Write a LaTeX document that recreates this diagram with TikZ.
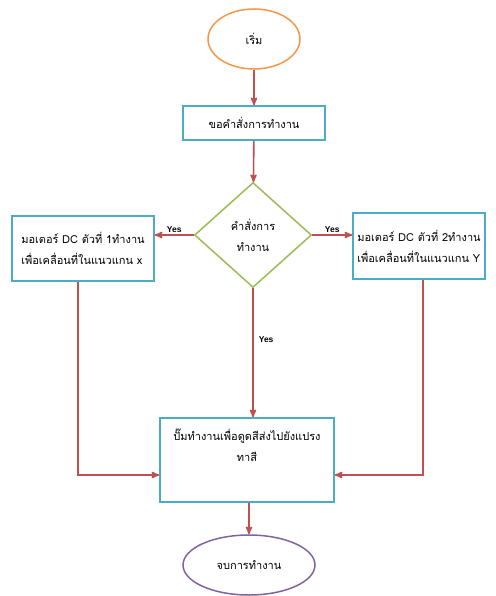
\documentclass[tikz,border=0pt]{standalone}
\usepackage{fontspec}
\usepackage{xcolor}
\usepackage{tikz}
\newfontfamily\thaifont[Script=Thai]{Loma}
\newfontfamily\yesfont{Liberation Sans}
\definecolor{startc}{RGB}{247,150,70}
\definecolor{boxc}{RGB}{75,172,198}
\definecolor{diac}{RGB}{155,187,89}
\definecolor{arrc}{RGB}{192,80,77}
\definecolor{endc}{RGB}{128,100,162}
\usetikzlibrary{
    arrows,
    shapes.geometric
}

\begin{document}
\begin{tikzpicture}[x=1pt,y=-1pt,>=stealth',semithick]
    \tikzstyle{every node}=[font=\thaifont\fontsize{11}{21}\selectfont]
    \tikzstyle{startstop}=[ellipse, draw, line width=1.5pt, inner sep=0pt]
    \tikzstyle{process}=[rectangle, draw=boxc, line width=1.5pt, inner sep=4pt]
    \tikzstyle{decision}=[diamond, draw=diac, line width=1.5pt, inner sep=0pt, align=center]
    \tikzstyle{flow}=[->, draw=arrc, line width=1.6pt]
    \tikzstyle{yes}=[font=\yesfont\bfseries\fontsize{8.5}{10}\selectfont, inner sep=2pt]
    \useasboundingbox (0,0) rectangle (495,596);
    \node[startstop, draw=startc, minimum width=92, minimum height=60] (start) at (254,39) {เริ่ม};
    \node[process, minimum width=142, minimum height=34] (ask) at (254,123) {ขอคำสั่งการทำงาน};
    \node[decision, minimum width=117, minimum height=105] (cmd) at (253,235) {คำสั่งการ\\ทำงาน};
    \node[process, minimum width=142, minimum height=65, align=left] (motor1) at (83,248.5) {มอเตอร์ DC ตัวที่ 1ทำงาน\\เพื่อเคลื่อนที่ในแนวแกน x};
    \node[process, minimum width=132, minimum height=66, align=left] (motor2) at (419,246) {มอเตอร์ DC ตัวที่ 2ทำงาน\\เพื่อเคลื่อนที่ในแนวแกน Y};
    \node[process, minimum width=174, minimum height=84, align=center, text depth=30pt] (pump) at (247,460) {ปั๊มทำงานเพื่อดูดสีส่งไปยังแปรง\\ทาสี};
    \node[startstop, draw=endc, minimum width=132, minimum height=60] (stop) at (249,565) {จบการทำงาน};
    \draw[flow] (start) -- (ask);
    \draw[flow] (ask) -- (cmd);
    \draw[flow] (cmd.west) -- node[yes, above]{Yes} (motor1.east |- cmd.west);
    \draw[flow] (cmd.east) -- node[yes, above]{Yes} (motor2.west |- cmd.east);
    \draw[flow] (cmd.south) -- node[yes, pos=0.4, right=3pt]{Yes} (pump.north -| cmd.south);
    \draw[flow] ([xshift=-5pt]motor1.south) |- ([yshift=-15pt]pump.west);
    \draw[flow] ([xshift=4pt]motor2.south) |- ([yshift=-15pt]pump.east);
    \draw[flow] (pump.south -| stop.north) -- (stop.north);
\end{tikzpicture}
\end{document}
